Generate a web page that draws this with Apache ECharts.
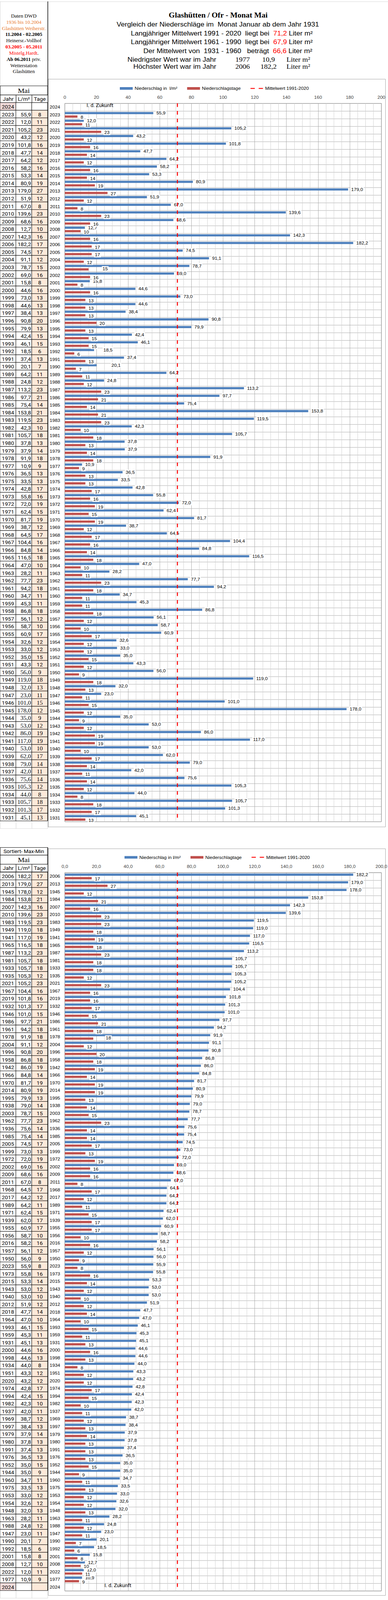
<!DOCTYPE html>
<html><head><meta charset="utf-8">
<script src="https://cdn.jsdelivr.net/npm/echarts@6/dist/echarts.min.js"></script>
<style>html,body{margin:0;padding:0;background:#fff;overflow:hidden}#c{width:994px;height:4397px;transform-origin:0 0}</style>
</head><body><div id="c"></div>
<script>
// ---------- DATA ----------
const YEARS = [2024,2023,2022,2021,2020,2019,2018,2017,2016,2015,2014,2013,2012,2011,2010,2009,2008,2007,2006,2005,2004,2003,2002,2001,2000,1999,1998,1997,1996,1995,1994,1993,1992,1991,1990,1989,1988,1987,1986,1985,1984,1983,1982,1981,1980,1979,1978,1977,1976,1975,1974,1973,1972,1971,1970,1969,1968,1967,1966,1965,1964,1963,1962,1961,1960,1959,1958,1957,1956,1955,1954,1953,1952,1951,1950,1949,1948,1947,1946,1945,1944,1943,1942,1941,1940,1939,1938,1937,1936,1935,1934,1933,1932,1931];
const RAIN = [null,
 55.9,12.0,105.2,43.2,101.8,47.7,64.2,58.2,53.3,80.9,
 179.0,51.9,67.0,139.6,68.6,12.7,142.3,182.2,74.5,91.1,
 78.7,69.0,15.8,44.6,73.0,44.6,38.4,90.8,79.9,42.4,
 46.1,18.5,37.4,20.1,64.2,24.8,113.2,97.7,75.4,153.8,
 119.5,42.3,105.7,37.8,37.9,91.9,10.9,36.5,33.5,42.8,
 55.8,72.0,62.4,81.7,38.7,64.5,104.4,84.8,116.5,47.0,
 28.2,77.7,94.2,34.7,45.3,86.8,56.1,58.7,60.9,32.6,
 33.0,35.0,43.3,56.0,119.0,32.0,23.0,101.0,178.0,35.0,
 53.0,86.0,117.0,53.0,62.0,79.0,42.0,75.6,105.3,44.0,
 105.7,101.3,45.1];
const DAYS = [null,
 8,11,23,12,16,14,12,16,14,19,
 27,12,8,23,16,10,16,17,17,12,
 15,16,8,16,13,13,13,20,13,15,
 15,6,13,7,11,12,23,21,14,21,
 23,10,18,13,14,18,9,13,13,17,
 16,19,15,19,12,17,16,14,18,10,
 11,23,18,11,11,18,12,10,17,12,
 12,15,12,9,18,13,11,15,12,9,
 12,19,19,10,17,14,11,14,12,8,
 18,17,13];
const X_TICKS = [0,20,40,60,80,100,120,140,160,180,200];
const MEAN_1991_2020 = 71.2, MEAN_1961_1990 = 67.9, MEAN_1931_1960 = 66.6;
const FUTURE_YEAR = 2024;

// sorted view (descending, empty year last)
const SORTED = YEARS.map((y,i)=>i).sort((a,b)=>{
  const va = RAIN[a], vb = RAIN[b];
  if (va==null) return 1; if (vb==null) return -1; return vb-va;
});
const TOP = YEARS.map((y,i)=>i);

const fmt1 = v => v==null ? '' : v.toFixed(1).replace('.',',');
let minI=-1, maxI=-1;
RAIN.forEach((v,i)=>{ if(v==null) return; if(minI<0||v<RAIN[minI]) minI=i; if(maxI<0||v>RAIN[maxI]) maxI=i; });

// ---------- PAGE FIT (window may be shorter than the 4397px design) ----------
const DESIGN_H = 4397;
const SY = Math.min(1, (window.innerHeight||DESIGN_H)/DESIGN_H);
const box = document.getElementById('c');
if (SY < 1) box.style.transform = 'scale(1,'+SY+')';

// ---------- STYLE ----------
const SANS = 'Liberation Sans', SERIF = 'Liberation Serif', TBL = 'Roboto';
const BLUE = '#4f81bd', RED = '#c0504d', MEANRED = '#ff0000';
const ROW = 21, NROW = YEARS.length, GH = ROW*NROW;
const T1 = 282, C1 = 284, T2 = 2397, C2 = 2398;
const PLOT_L = 166, PLOT_W = 811;
const LABEL_SHIFT_TOP = { '1990-b':[30,0], '1992-b':[16,0], '2003-r':[28,-4] };
const LABEL_SHIFT_BOT = { '1978-r':[24,-4] };

const chart = echarts.init(box, null, {renderer:'svg', width:994, height:DESIGN_H});

function tableSeries(rows, gi, isTop){
  const data=[];
  rows.forEach((di,r)=>{ for(let c=0;c<3;c++) data.push([c,r,di]); });
  return {
    type:'custom', xAxisIndex:gi, yAxisIndex:gi, data, silent:true, z:5,
    renderItem(params, api){
      const c=api.value(0), r=api.value(1), di=api.value(2);
      const p=api.coord([c,r]), s=api.size([1,1]);
      const x0=p[0]-s[0]/2, y0=p[1]-s[1]/2;
      const yr=YEARS[di], v=RAIN[di], d=DAYS[di];
      let fill='#fff';
      if(c===2 && !(isTop && v==null)) fill='#fde9d9';
      if(c===0 && v==null) fill='#f2dcdb';
      let text, align, tx, fam=TBL, fs=14;
      if(c===0){ text=String(yr); align='center'; tx=p[0]; }
      else if(c===1){ text=fmt1(v); align='right'; tx=x0+s[0]-2; }
      else { text=d==null?'':String(d); align='center'; tx=p[0]; }
      if(isTop && yr<=1950 && c>0){ fam=SERIF; fs=15.5; }
      return {type:'group', children:[
        {type:'rect', shape:{x:x0,y:y0,width:s[0],height:s[1]}, style:{fill, stroke:'#000', lineWidth:1}},
        {type:'text', style:{text, x:tx, y:p[1]+1, align, textAlign:align, verticalAlign:'middle', textVerticalAlign:'middle', fontFamily:fam, fontSize:fs, fill:'#000'}}
      ]};
    }
  };
}

function barSeries(rows, gi, blueName, redName, shift, futureX){
  const bdata = rows.map(i=>{ const k=YEARS[i]+'-b'; return shift[k]?{value:RAIN[i], label:{offset:shift[k]}}:RAIN[i]; });
  const rdata = rows.map(i=>{ const k=YEARS[i]+'-r'; return shift[k]?{value:DAYS[i], label:{offset:[shift[k][0],shift[k][1]+2]}}:DAYS[i]; });
  const lab = {show:true, position:'right', distance:6, fontFamily:SANS, fontSize:12, color:'#000', backgroundColor:'#fff', padding:[1,2]};
  return [
    {name:blueName, type:'bar', xAxisIndex:gi, yAxisIndex:gi, data:bdata, barWidth:6, barGap:'60%', itemStyle:{color:BLUE},
     label:Object.assign({}, lab, {formatter:p=>fmt1(p.value)}),
     markPoint:{symbol:'rect', symbolSize:1, silent:true, itemStyle:{color:'rgba(0,0,0,0)'},
       label:{show:true, position:'inside', formatter:'I. d. Zukunft', color:'#000', fontFamily:TBL, fontSize:13},
       data:[{coord:[futureX, String(FUTURE_YEAR)]}]}},
    {name:redName, type:'bar', xAxisIndex:gi, yAxisIndex:gi, data:rdata, barWidth:6, barGap:'60%', itemStyle:{color:RED},
     label:Object.assign({}, lab, {offset:[0,2], formatter:p=>p.value==null?'':String(p.value)})},
    {name:'Mittelwert 1991-2020', type:'line', xAxisIndex:gi, yAxisIndex:gi, data:[], symbol:'none',
     itemStyle:{color:MEANRED}, lineStyle:{color:MEANRED, width:2.5, type:[10,11]},
     markLine:{silent:true, symbol:['none','none'], label:{show:false}, animation:false,
       lineStyle:{color:MEANRED, width:2.5, type:[10,11]}, data:[{xAxis:MEAN_1991_2020}]}}
  ];
}

function valueAxis(gi, fmt){
  return {gridIndex:gi, type:'value', min:X_TICKS[0], max:X_TICKS[X_TICKS.length-1], interval:X_TICKS[1]-X_TICKS[0], position:'top',
    axisLine:{show:false}, axisTick:{show:false},
    axisLabel:{margin:11, fontFamily:SANS, fontSize:12, color:'#404040', formatter:fmt},
    splitLine:{show:true, lineStyle:{color:'#a8a8a8', width:1}},
    minorTick:{show:false, splitNumber:4}, minorSplitLine:{show:true, lineStyle:{color:'#d0d0d0', width:1}}};
}
function catAxis(gi, rows){
  return {gridIndex:gi, type:'category', inverse:true, data:rows.map(i=>String(YEARS[i])),
    axisLine:{show:false}, axisTick:{show:false},
    axisLabel:{interval:0, margin:12, fontFamily:SANS, fontSize:12, color:'#000'},
    splitLine:{show:true, interval:0, lineStyle:{color:'#a8a8a8', width:1}}};
}
function hiddenCat(gi, data, inv){ return {gridIndex:gi, type:'category', data, inverse:!!inv, show:false}; }

const dashIcon = 'path://M0,0L0.01,0L0.01,0.01L0,0.01Z M0,7L0.01,7L0.01,7.01L0,7.01Z M0,2.3H11V4.7H0Z M21,2.3H32V4.7H21Z';

// ---------- GRAPHIC ----------
const G = [];
function txt(x,y,text,o){ G.push(Object.assign({type:'text', x, y, silent:true, style:Object.assign({text, fill:'#000', font:'13px '+SERIF, textAlign:'center', textVerticalAlign:'middle'}, o||{})})); }
function line(x1,y1,x2,y2,color,w){ G.push({type:'line', silent:true, shape:{x1,y1,x2,y2}, style:{stroke:color, lineWidth:w||1}}); }
function cell(x,y,w,h,fill,stroke){ G.push({type:'rect', silent:true, shape:{x,y,width:w,height:h}, style:{fill:fill||'#fff', stroke:stroke||'#000', lineWidth:1}}); }

line(0,4.5,994,4.5,'#d4d4d4');
line(0.5,4,0.5,236,'#d4d4d4');
G.push({type:'rect', silent:true, shape:{x:123.5,y:217.5,width:864,height:2055}, style:{fill:'none', stroke:'#a0a0a0', lineWidth:1}});
G.push({type:'rect', silent:true, shape:{x:123.5,y:2332.5,width:864,height:2052}, style:{fill:'none', stroke:'#a0a0a0', lineWidth:1}});
line(122.5,4,122.5,2273,'#000',1.5);
line(122.5,2329,122.5,4372,'#000',1.5);

const ORANGE = '#e87a2e';
txt(61,44,'Daten DWD');
txt(61,61,'1936 bis 10.2004',{fill:ORANGE});
txt(61,78,'Glashütten Weiherstr.',{fill:ORANGE});
txt(61,95,'11.2004 - 02.2005',{font:'bold 13px '+SERIF});
txt(61,112,'Heinersr.-Vollhof');
txt(61,129,'03.2005 - 05.2011',{fill:'#ff0000', font:'bold 13px '+SERIF});
txt(61,146,'{r|Mistelg.Hardt}{k|.}',{rich:{r:{fill:'#ff0000', fontFamily:SERIF, fontSize:13}, k:{fill:'#000', fontFamily:SERIF, fontSize:13}}});
txt(61,163,'{b|Ab 06.2011} {n|priv.}',{rich:{b:{fontWeight:'bold', fontFamily:SERIF, fontSize:13, fill:'#000'}, n:{fontFamily:SERIF, fontSize:13, fill:'#000'}}});
txt(61,180,'Wetterstation');
txt(61,197,'Glashütten');

txt(559,42,'Glashütten / Ofr - Monat Mai',{font:'bold 20px '+SERIF});
txt(558,67,'Vergleich der Niederschläge im  Monat Januar ab dem Jahr 1931',{font:'18px '+SANS});
const richH = {a:{fontFamily:SANS, fontSize:18, fill:'#000'}, r:{fontFamily:SANS, fontSize:18, fill:'#ff0000'}};
txt(801,91,'{a|Langjähriger Mittelwert 1991 - 2020  liegt bei  }{r|'+fmt1(MEAN_1991_2020)+'}{a| Liter m²}',{textAlign:'right', rich:richH});
txt(801,115,'{a|Langjähriger Mittelwert 1961 - 1990  liegt bei  }{r|'+fmt1(MEAN_1961_1990)+'}{a| Liter m²}',{textAlign:'right', rich:richH});
txt(800,140,'{a|Der Mittelwert von  1931 - 1960   beträgt  }{r|'+fmt1(MEAN_1931_1960)+'}{a| Liter m²}',{textAlign:'right', rich:richH});
txt(554,163,'Niedrigster Wert war im Jahr',{font:'18px '+SANS, textAlign:'right'});
txt(554,183,'Höchster Wert war im Jahr',{font:'18px '+SANS, textAlign:'right'});
[[163,minI],[183,maxI]].forEach(([y,i])=>{
  txt(603,y,String(YEARS[i]),{font:'18.5px '+SERIF, textAlign:'left'});
  txt(688,y,fmt1(RAIN[i]),{font:'18.5px '+SERIF, textAlign:'center'});
  txt(734,y,'Liter m²',{font:'18.5px '+SERIF, textAlign:'left'});
});

function tableHead(yMai){
  cell(0.5,yMai,121.5,25);
  txt(61,yMai+13,'Mai',{font:'19px '+SERIF});
  const y=yMai+25;
  cell(0.5,y,40.7,21); cell(41.2,y,40.7,21); cell(81.8,y,40.7,21);
  txt(21,y+11,'Jahr',{font:'14px '+TBL});
  txt(61,y+11,'L/m²',{font:'14px '+TBL});
  txt(102,y+11,'Tage',{font:'14px '+TBL});
}
tableHead(236);
cell(0.5,2329,121.5,21);
txt(61,2340,'Sortiert- Max-Min',{font:'13.5px '+TBL});
tableHead(2350);
[[2256],[4371]].forEach(([y])=>{ cell(0.5,y,40.7,21,'#fff','#d9d9d9'); cell(41.2,y,40.7,21,'#fff','#d9d9d9'); cell(81.8,y,40.7,21,'#fff','#d9d9d9'); });

const legendText = {fontFamily:SANS, fontSize:12, color:'#000'};
const option = {
  animation:false,
  backgroundColor:'#fff',
  legend:[
    {left:302, top:232, itemWidth:33, itemHeight:7, itemGap:25, selectedMode:false, textStyle:legendText,
     data:[{name:'Niederschlag in  l/m²', icon:'rect'},{name:'Niederschlagstage', icon:'rect'},{name:'Mittelwert 1991-2020', icon:dashIcon}]},
    {left:314, top:2345, itemWidth:33, itemHeight:7, itemGap:25, selectedMode:false, textStyle:legendText,
     data:[{name:'Niederschlag in l/m²', icon:'rect'},{name:'Niederschlagtage', icon:'rect'},{name:'Mittelwert 1991-2020', icon:dashIcon}]}
  ],
  grid:[
    {left:0, top:T1, width:122, height:GH, outerBoundsMode:'none', containLabel:false},
    {left:PLOT_L, top:C1, width:PLOT_W, height:GH, show:true, borderColor:'#808080', borderWidth:1, backgroundColor:'transparent', outerBoundsMode:'none', containLabel:false},
    {left:0, top:T2, width:122, height:GH, outerBoundsMode:'none', containLabel:false},
    {left:PLOT_L, top:C2, width:PLOT_W, height:GH, show:true, borderColor:'#808080', borderWidth:1, backgroundColor:'transparent', outerBoundsMode:'none', containLabel:false}
  ],
  xAxis:[
    hiddenCat(0,['Jahr','L/m²','Tage']),
    valueAxis(1, v=>String(v)),
    hiddenCat(2,['Jahr','L/m²','Tage']),
    valueAxis(3, v=>v.toFixed(1).replace('.',','))
  ],
  yAxis:[
    hiddenCat(0, TOP.map(i=>String(YEARS[i])), true),
    catAxis(1, TOP),
    hiddenCat(2, SORTED.map(i=>String(YEARS[i])), true),
    catAxis(3, SORTED)
  ],
  series:[
    tableSeries(TOP,0,true),
    ...barSeries(TOP,1,'Niederschlag in  l/m²','Niederschlagstage',LABEL_SHIFT_TOP,22.2),
    tableSeries(SORTED,2,false),
    ...barSeries(SORTED,3,'Niederschlag in l/m²','Niederschlagtage',LABEL_SHIFT_BOT,33.5)
  ],
  graphic:{elements:G}
};
chart.setOption(option);
</script></body></html>
